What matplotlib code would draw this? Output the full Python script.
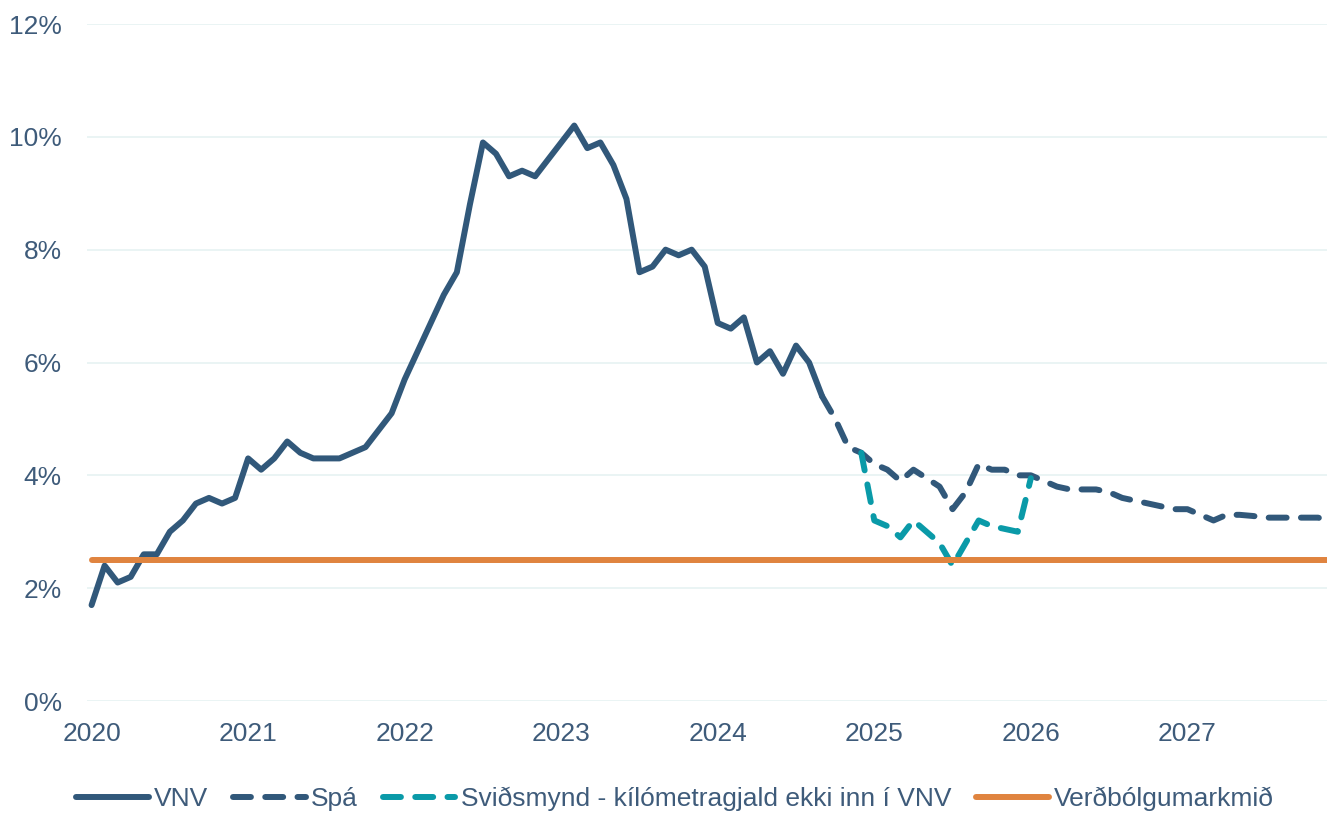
import matplotlib
matplotlib.use("Agg")
import matplotlib.pyplot as plt
import numpy as np

# ---- data ----
start_year = 2020
year_labels = ["2020", "2021", "2022", "2023", "2024", "2025", "2026", "2027"]

# VNV (actual 12-month inflation), Jan 2020 - Sep 2024
vnv = [1.7, 2.4, 2.1, 2.2, 2.6, 2.6, 3.0, 3.2, 3.5, 3.6, 3.5, 3.6,
       4.3, 4.1, 4.3, 4.6, 4.4, 4.3, 4.3, 4.3, 4.4, 4.5, 4.8, 5.1,
       5.7, 6.2, 6.7, 7.2, 7.6, 8.8, 9.9, 9.7, 9.3, 9.4, 9.3, 9.6,
       9.9, 10.2, 9.8, 9.9, 9.5, 8.9, 7.6, 7.7, 8.0, 7.9, 8.0, 7.7,
       6.7, 6.6, 6.8, 6.0, 6.2, 5.8, 6.3, 6.0, 5.4]

# Spá (forecast), Sep 2024 - Dec 2027
spa = [5.4, 5.0, 4.5, 4.4,
       4.2, 4.1, 3.9, 4.1, 3.95, 3.8, 3.4, 3.7, 4.2, 4.1, 4.1, 4.0,
       4.0, 3.9, 3.8, 3.75, 3.75, 3.75, 3.7, 3.6, 3.55, 3.5, 3.45, 3.4,
       3.4, 3.3, 3.2, 3.3, 3.3, 3.28, 3.25, 3.25, 3.25, 3.25, 3.25, 3.2]
spa_start = 56  # month index of Sep 2024

# Sviðsmynd (scenario), Dec 2024 - Jan 2026
svid = [4.4, 3.2, 3.1, 2.9, 3.2, 3.0, 2.8, 2.4, 2.8, 3.2, 3.1, 3.05, 3.0, 3.95]
svid_start = 59  # month index of Dec 2024

inflation_target = 2.5
n_months = 96  # Jan 2020 - Dec 2027

labels = ["VNV", "Spá", "Sviðsmynd - kílómetragjald ekki inn í VNV", "Verðbólgumarkmið"]

# ---- style ----
c_dark = "#31587A"
c_teal = "#0A9AA8"
c_orange = "#E0843F"
c_text = "#3E5B7A"
c_grid = "#E8F3F3"

plt.rcParams['font.family'] = ['Liberation Sans', 'DejaVu Sans']

fig = plt.figure(figsize=(13.27, 8.13), dpi=100)
W, H = 1327, 813
ax = fig.add_axes([87 / W, (H - 701) / H, (1327 - 87) / W, (701 - 24) / H])

lw = 4.3
dash = (3.0, 2.4)

x_vnv = np.arange(len(vnv))
x_spa = spa_start + np.arange(len(spa))
x_svid = svid_start + np.arange(len(svid))
x_all = np.arange(n_months)

ax.plot(x_vnv, vnv, color=c_dark, lw=lw, solid_capstyle='round', solid_joinstyle='round',
        label=labels[0], zorder=3)
ax.plot(x_spa, spa, color=c_dark, lw=lw, linestyle=(0, dash), dash_capstyle='round',
        dash_joinstyle='round', label=labels[1], zorder=4)
ax.plot(x_svid, svid, color=c_teal, lw=lw, linestyle=(0, dash), dash_capstyle='round',
        dash_joinstyle='round', label=labels[2], zorder=5)
ax.plot(x_all, [inflation_target] * n_months, color=c_orange, lw=lw,
        solid_capstyle='round', label=labels[3], zorder=6)

ax.set_xlim(-0.35, 94.7)
ax.set_ylim(0, 12)
ax.set_yticks(np.arange(0, 13, 2))
ax.set_yticklabels([f"{v}%" for v in range(0, 13, 2)])
ax.set_xticks([12 * i for i in range(len(year_labels))])
ax.set_xticklabels(year_labels)

ax.grid(axis='y', color=c_grid, lw=1.3, zorder=0)
ax.set_axisbelow(True)
for s in ax.spines.values():
    s.set_visible(False)
ax.tick_params(axis='both', length=0, labelsize=19, labelcolor=c_text)
ax.tick_params(axis='y', pad=18)
ax.tick_params(axis='x', pad=15)
for lbl in ax.get_yticklabels():
    lbl.set_horizontalalignment('right')

leg = fig.legend(loc='center', bbox_to_anchor=(675 / W, 1 - 799 / H), ncol=4,
                 frameon=False, fontsize=19, handlelength=2.75, handletextpad=0.2,
                 columnspacing=0.95, labelcolor=c_text, borderaxespad=0)

fig.savefig("out.png", dpi=100)
